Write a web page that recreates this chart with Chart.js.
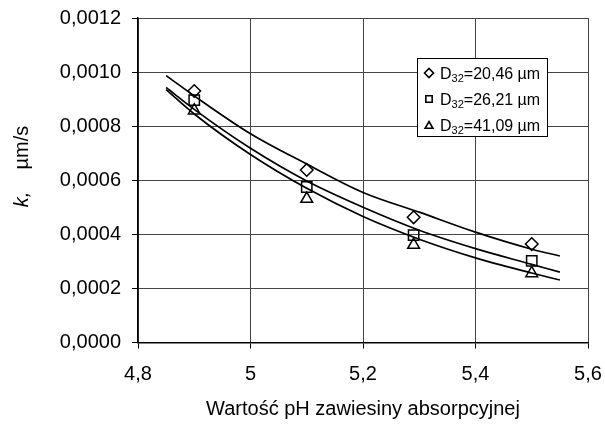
<!DOCTYPE html>
<html><head><meta charset="utf-8">
<script src="https://cdn.jsdelivr.net/npm/chart.js@4.4.0/dist/chart.umd.min.js"></script>
<style>html,body{margin:0;padding:0;background:#fff;} #wrap{width:605px;height:426px;position:relative;}</style>
</head><body><div id="wrap"><canvas id="c"></canvas></div>
<script>
// measured points
const phValues = [4.9, 5.1, 5.29, 5.5];
const kD2046 = [0.000930, 0.000638, 0.000463, 0.000364];
const kD2621 = [0.000896, 0.000575, 0.000397, 0.000302];
const kD4109 = [0.000858, 0.000531, 0.000361, 0.000256];
// trend lines
const trendPh = [4.85, 4.9, 5.0, 5.1, 5.2, 5.3, 5.4, 5.5, 5.55];
const trendD2046 = [0.000987, 0.000912, 0.000772, 0.000660, 0.000555, 0.000482, 0.000408, 0.000345, 0.000320];
const trendD2621 = [0.000943, 0.000862, 0.000718, 0.000597, 0.000500, 0.000415, 0.000347, 0.000289, 0.000260];
const trendD4109 = [0.000935, 0.000845, 0.000695, 0.000570, 0.000466, 0.000382, 0.000313, 0.000257, 0.000231];
const legendSizes = ['20,46', '26,21', '41,09'];
const legendMarkers = ['rectRot', 'rect', 'triangle'];
const xTicks = [4.8, 5.0, 5.2, 5.4, 5.6];
const yTicks = [0, 0.0002, 0.0004, 0.0006, 0.0008, 0.0010, 0.0012];
const xTitle = 'Wartość pH zawiesiny absorpcyjnej';

const FONT = '"Liberation Sans", Arial, sans-serif';
const toXY = (xs, ys) => xs.map((x, i) => ({x: x, y: ys[i]}));

function pointSet(vals, style, r) {
  return {type: 'scatter', data: toXY(phValues, vals), showLine: false,
    pointStyle: style, pointRadius: r, pointHoverRadius: r,
    pointBorderColor: '#000', pointBackgroundColor: 'rgba(0,0,0,0)', pointBorderWidth: 1.5};
}
function lineSet(vals) {
  return {type: 'line', data: toXY(trendPh, vals), showLine: true, pointRadius: 0,
    borderColor: '#000', borderWidth: 1.7, tension: 0.4, cubicInterpolationMode: 'monotone', fill: false};
}

const extraText = {
  id: 'extraText',
  afterDraw(chart) {
    const ctx = chart.ctx;
    // y axis title
    ctx.save();
    ctx.translate(22.5, 166.5);
    ctx.rotate(-Math.PI / 2);
    ctx.fillStyle = '#000';
    ctx.textBaseline = 'middle';
    ctx.textAlign = 'left';
    const p1 = 'k,', p2 = '    \u00b5m/s';
    ctx.font = 'italic 20px ' + FONT;
    const w1 = ctx.measureText(p1).width;
    ctx.font = '20px ' + FONT;
    const w2 = ctx.measureText(p2).width;
    const start = -(w1 + w2) / 2;
    ctx.font = 'italic 20px ' + FONT;
    ctx.fillText(p1, start, 0);
    ctx.font = '20px ' + FONT;
    ctx.fillText(p2, start + w1, 0);
    ctx.restore();

    // legend
    const bx = 417, by = 58, bw = 130, bh = 78;
    ctx.save();
    ctx.fillStyle = '#fff';
    ctx.fillRect(bx, by, bw, bh);
    ctx.strokeStyle = '#000';
    ctx.lineWidth = 1;
    ctx.strokeRect(bx + 0.5, by + 0.5, bw, bh);
    legendSizes.forEach((s, i) => {
      const cy = 73 + i * 26;
      ctx.strokeStyle = '#000';
      ctx.fillStyle = '#fff';
      ctx.lineWidth = 1.6;
      Chart.helpers.drawPoint(ctx, {pointStyle: legendMarkers[i], radius: 4.5, borderWidth: 1.6, rotation: 0}, 429, cy + (legendMarkers[i] === 'triangle' ? 1 : 0));
      ctx.fillStyle = '#000';
      ctx.textBaseline = 'alphabetic';
      ctx.textAlign = 'left';
      const base = cy + 6;
      let x = 440;
      ctx.font = '16px ' + FONT;
      ctx.fillText('D', x, base);
      x += ctx.measureText('D').width;
      ctx.font = '11px ' + FONT;
      ctx.fillText('32', x, base + 3);
      x += ctx.measureText('32').width;
      ctx.font = '16px ' + FONT;
      ctx.fillText('=' + s + ' \u00b5m', x, base);
    });
    ctx.restore();
  }
};

new Chart(document.getElementById('c'), {
  type: 'scatter',
  data: {datasets: [
    pointSet(kD2046, 'rectRot', 6.3),
    pointSet(kD2621, 'rect', 7.3),
    pointSet(kD4109, 'triangle', 6.8),
    lineSet(trendD2046), lineSet(trendD2621), lineSet(trendD4109)
  ]},
  options: {
    responsive: true, maintainAspectRatio: false, animation: false,
    devicePixelRatio: 1,
    layout: {padding: {left: 0, right: 17, top: 18, bottom: 0}},
    plugins: {legend: {display: false}, tooltip: {enabled: false}, title: {display: false}},
    scales: {
      x: {
        type: 'linear', min: 4.8, max: 5.6,
        afterBuildTicks: s => { s.ticks = xTicks.map(v => ({value: v})); },
        afterFit: s => { s.height = 426 - 342.5; s.paddingLeft = 0; s.paddingRight = 0; },
        ticks: {color: '#000', font: {family: FONT, size: 20}, padding: 14, maxRotation: 0,
          callback: v => String(Number(v.toFixed(1))).replace('.', ',')},
        grid: {color: '#444', lineWidth: 1, tickLength: 6, tickColor: '#000', drawTicks: true},
        border: {color: '#000', width: 1.5},
        title: {display: true, text: xTitle, color: '#000', font: {family: FONT, size: 20}, padding: {top: 0, bottom: 5}}
      },
      y: {
        min: 0, max: 0.0012,
        afterBuildTicks: s => { s.ticks = yTicks.map(v => ({value: v})); },
        afterFit: s => { s.width = 138; s.paddingTop = 0; s.paddingBottom = 0; },
        ticks: {color: '#000', font: {family: FONT, size: 20}, padding: 11,
          callback: v => v.toFixed(4).replace('.', ',')},
        grid: {color: '#444', lineWidth: 1, tickLength: 6, tickColor: '#000', drawTicks: true},
        border: {color: '#000', width: 1.5}
      }
    }
  },
  plugins: [extraText]
});
</script></body></html>
